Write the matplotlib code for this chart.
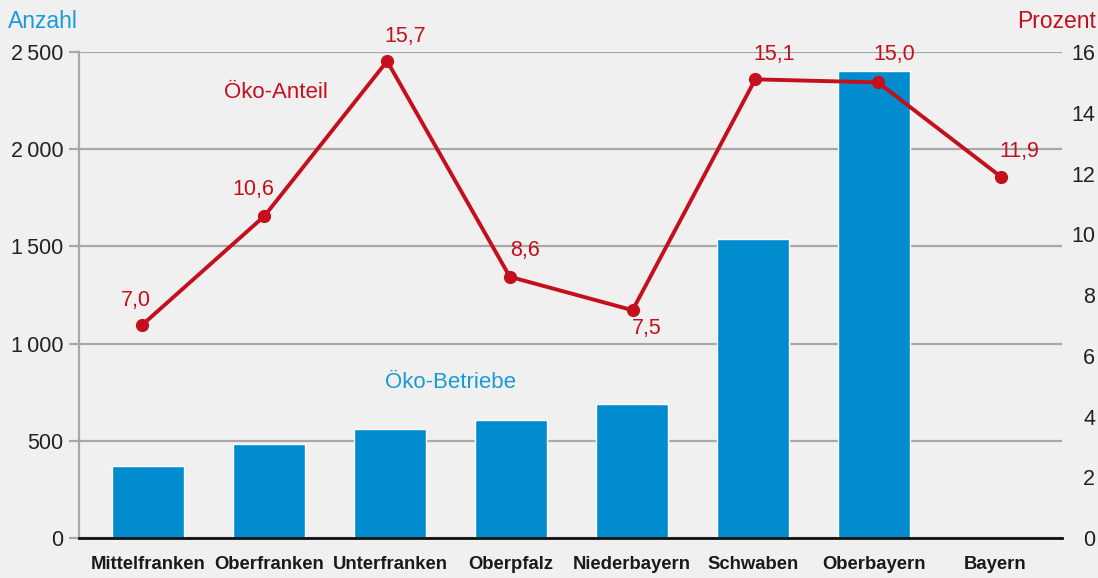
import matplotlib.pyplot as plt
import numpy as np

# Data
regions = ['Mittelfranken', 'Oberfranken', 'Unterfranken', 'Oberpfalz',
           'Niederbayern', 'Schwaben', 'Oberbayern', 'Bayern']
betriebe = [370, 484, 561, 607, 689, 1538, 2402]   # no bar for Bayern
anteil = [7.0, 10.6, 15.7, 8.6, 7.5, 15.1, 15.0, 11.9]
left_ticks = [0, 500, 1000, 1500, 2000, 2500]
left_labels = ['0', '500', '1\u2009000', '1\u2009500', '2\u2009000', '2\u2009500']
right_ticks = [0, 2, 4, 6, 8, 10, 12, 14, 16]

# label offsets (pixels) for the percentage values
offsets = [(-6, 25), (-11, 27), (18, 25), (15, 26), (14, -18), (19, 25), (16, 28), (19, 25)]

plt.rcParams['font.family'] = ['Liberation Sans', 'DejaVu Sans']

BLUE = '#008ccf'
BLUE_TXT = '#1a9ad6'
RED = '#c40f1c'
BG = '#f0f0f0'
GRID = '#a8a8a8'
PX = 0.72  # points per pixel at dpi 100

fig = plt.figure(figsize=(10.98, 5.78), dpi=100, facecolor=BG)
rect = [0.07195, 0.0692, 0.8953, 0.8408]
ax = fig.add_axes(rect, facecolor=BG)

# bars on the category scale
xc = np.arange(len(regions))
ax.bar(xc[:len(betriebe)], betriebe, width=0.6, color=BLUE, edgecolor='white',
       linewidth=1, zorder=2)
ax.set_ylim(0, 2500)
ax.set_xlim(-0.570, 7.554)
ax.set_yticks(left_ticks)
ax.set_yticklabels(left_labels, fontsize=15.5, color='#222222')
ax.yaxis.grid(True, color=GRID, linewidth=1.6, zorder=0)
ax.set_axisbelow(True)
ax.tick_params(axis='y', length=7, width=1.6, color=GRID, pad=4)
ax.tick_params(axis='x', length=0, pad=13)
ax.set_xticks(xc)
ax.set_xticklabels(regions, fontsize=13.3, fontweight='bold', color='#1a1a1a')

for s in ['top', 'right']:
    ax.spines[s].set_visible(False)
ax.spines['left'].set_color(GRID)
ax.spines['left'].set_linewidth(1.6)
ax.spines['bottom'].set_color('#111111')
ax.spines['bottom'].set_linewidth(2)

# line: its own evenly spaced scale (slightly wider than the bars')
ax2 = fig.add_axes(rect, facecolor='none')
xl = np.arange(len(anteil))
ax2.set_xlim(-0.511, 7.50)
ax2.set_ylim(0, 16)
ax2.set_xticks([])
ax2.yaxis.tick_right()
ax2.set_yticks(right_ticks)
ax2.tick_params(axis='y', length=0, pad=24, labelsize=15.5, labelcolor='#222222')
for lab in ax2.get_yticklabels():
    lab.set_horizontalalignment('right')
for s in ['top', 'right', 'left', 'bottom']:
    ax2.spines[s].set_visible(False)
ax2.plot(xl, anteil, color=RED, linewidth=2.8, marker='o', markersize=8.5, zorder=5)
for xi, v, (dx, dy) in zip(xl, anteil, offsets):
    ax2.annotate(f'{v:.1f}'.replace('.', ','), (xi, v), xytext=(dx * PX, dy * PX),
                 textcoords='offset points', ha='center', va='center',
                 fontsize=15.5, color=RED)

fig.text(0.007, 0.963, 'Anzahl', color=BLUE_TXT, fontsize=16.5, ha='left', va='center')
fig.text(0.998, 0.963, 'Prozent', color=RED, fontsize=16.5, ha='right', va='center')
ax.text(1.054, 2294, 'Öko-Anteil', color=RED, fontsize=16, ha='center', va='center')
ax.text(2.504, 802, 'Öko-Betriebe', color=BLUE_TXT, fontsize=16, ha='center', va='center')

fig.savefig('out.png', dpi=100, facecolor=BG)
